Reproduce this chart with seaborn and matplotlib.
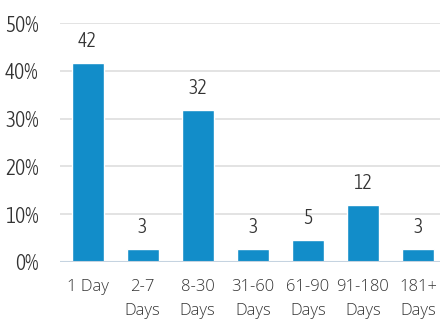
import matplotlib
matplotlib.use("Agg")
import matplotlib.pyplot as plt
import seaborn as sns
import pandas as pd
from matplotlib.ticker import FuncFormatter
from matplotlib import font_manager as fm

categories = ["1 Day", "2-7\nDays", "8-30\nDays", "31-60\nDays", "61-90\nDays", "91-180\nDays", "181+\nDays"]
values = [41.7, 2.7, 31.8, 2.7, 4.7, 11.9, 2.7]
labels = ["42", "3", "32", "3", "5", "12", "3"]
yticks = [0, 10, 20, 30, 40, 50]

df = pd.DataFrame({"cat": categories, "val": values})

sns.set_theme(style="white")

# pick a condensed font (lightest available weight) if one is installed
def _w(x):
    try:
        return int(x)
    except Exception:
        return fm.weight_dict.get(x, 400)

cands = [f for f in fm.fontManager.ttflist
         if ("Condensed" in f.name or "Narrow" in f.name) and f.style == "normal"]
cands.sort(key=lambda f: (abs(_w(f.weight) - 330), f.name))
if cands:
    cf = cands[0]
    fp = fm.FontProperties(fname=cf.fname)
    nsize_y, nsize_v = 15.5, 14.5
else:
    fp = fm.FontProperties(family="DejaVu Sans")
    nsize_y, nsize_v = 12, 11

fig = plt.figure(figsize=(4.4, 3.2), dpi=100)
ax = fig.add_axes([60/440, 58/320, 380/440, 239/320])
sns.barplot(data=df, x="cat", y="val", color="#128dc9", saturation=1, width=0.58, ax=ax)

ax.set_ylim(0, 50)
ax.set_xlim(-0.5, 6.4)
ax.set_yticks(yticks)
ax.yaxis.set_major_formatter(FuncFormatter(lambda v, p: f"{int(v)}%"))
for y in yticks[1:]:
    ax.axhline(y, color="#dedede", lw=1.2, zorder=0)
ax.axhline(0, color="#c5d3e0", lw=1.5, zorder=3)
for s in ax.spines.values():
    s.set_visible(False)
ax.set_xlabel("")
ax.set_ylabel("")
ax.tick_params(axis="y", length=0, pad=15.5, labelcolor="#333333")
ax.tick_params(axis="x", length=0, pad=12, labelsize=12, labelcolor="#333333")
yfp = fp.copy()
yfp.set_size(nsize_y)
for t in ax.get_yticklabels():
    t.set_fontproperties(yfp)
for t in ax.get_xticklabels():
    t.set_family(["Open Sans", "DejaVu Sans"])
    t.set_fontweight("light")
    t.set_linespacing(1.7)

vfp = fp.copy()
vfp.set_size(nsize_v)
for i, (v, lab) in enumerate(zip(values, labels)):
    ax.annotate(lab, (i, v), xytext=(0, 12), textcoords="offset pixels",
                ha="center", va="bottom", color="#333333", fontproperties=vfp)

fig.savefig("out.png", dpi=100)
